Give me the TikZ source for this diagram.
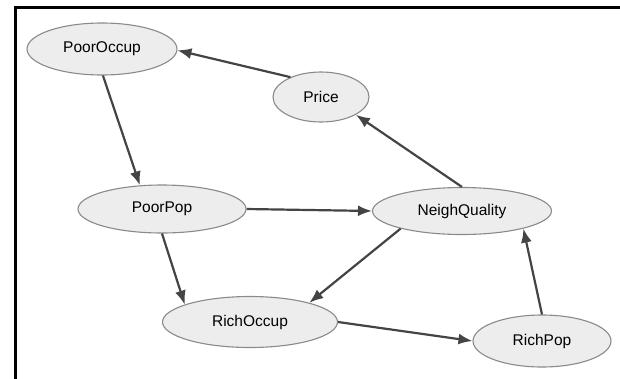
\documentclass[tikz,border=0pt]{standalone}
\usepackage{fontspec}
\setmainfont{Liberation Sans}
\usetikzlibrary{arrows.meta,shapes.geometric}
\definecolor{nodefill}{HTML}{EDEDED}
\definecolor{nodeline}{HTML}{8A8A8A}
\definecolor{edgeline}{HTML}{444444}
\tikzset{
causal/.style={x=1pt,y=-1pt,>={Latex[length=14pt,width=11pt]},semithick},
factor/.style={ellipse,draw=nodeline,fill=nodefill,line width=1.1pt,inner sep=0pt,
font=\fontsize{15.5}{18}\selectfont},
influence/.style={->,draw=edgeline,line width=2.2pt},
}

\begin{document}
\begin{tikzpicture}[causal]
\useasboundingbox (0,0) rectangle (620,378);
\draw[line width=3pt,line cap=rect] (15,378) -- (15,7) -- (620,7);

\node[factor,minimum width=150pt,minimum height=52pt] (poccup) at (102,49) {PoorOccup};
\node[factor,minimum width=96pt,minimum height=50pt] (price) at (321,97) {Price};
\node[factor,minimum width=168pt,minimum height=48pt] (ppop) at (162,209) {PoorPop};
\node[factor,minimum width=179pt,minimum height=47pt] (nquality) at (462,211) {NeighQuality};
\node[factor,minimum width=175pt,minimum height=51pt] (roccup) at (250,322) {RichOccup};
\node[factor,minimum width=138pt,minimum height=52pt] (rpop) at (542,341) {RichPop};

% edges leave and enter at the same places as the layout engine's
\draw[influence] (price.147) -- (poccup.-1);
\draw[influence] (poccup.-88) -- (ppop.133);
\draw[influence] (ppop.-90) -- (roccup.165);
\draw[influence] (ppop.0) -- (nquality.180);
\draw[influence] (nquality.90) -- (price.-27);
\draw[influence] (nquality.196) -- (roccup.18);
\draw[influence] (roccup.0) -- (rpop.180);
\draw[influence] (rpop.90) -- (nquality.-16);
\end{tikzpicture}
\end{document}
